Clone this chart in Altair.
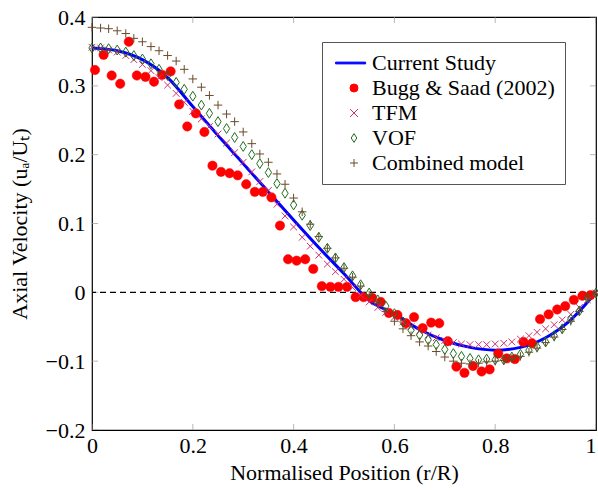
import altair as alt
import pandas as pd

FONT = "Liberation Serif"

series_names = ["Current Study", "Bugg & Saad (2002)", "TFM", "VOF", "Combined model"]
stroke_colors = ["#0000ff", "#ff0000", "#d3306b", "#1e6e1e", "#6b4a2b"]
fill_colors = ["#0000ff", "#ff0000", "transparent", "transparent", "transparent"]
shapes = ["M-4.6,-0.22H2.9V0.22H-4.6Z", "circle", "M-1,-1L1,1M-1,1L1,-1",
          "M0,-1.1L0.7,0L0,1.1L-0.7,0Z", "M-1,0H1M0,-1V1"]

x_ticks = [0, 0.2, 0.4, 0.6, 0.8, 1]
y_ticks = [-0.2, -0.1, 0, 0.1, 0.2, 0.3, 0.4]

# Current Study (solid line)
cs_x = [0, 0.05, 0.1, 0.15, 0.2, 0.25, 0.3, 0.35, 0.4, 0.45, 0.5,
        0.55, 0.6, 0.65, 0.7, 0.75, 0.8, 0.85, 0.9, 0.95, 1.0]
cs_y = [0.355, 0.351, 0.338, 0.312, 0.27, 0.228, 0.187, 0.146, 0.105, 0.065, 0.027,
        -0.012, -0.031, -0.054, -0.07, -0.08, -0.084, -0.08, -0.066, -0.04, 0.0]

# Bugg & Saad (2002) experimental points
bs_x = [0.006, 0.023, 0.039, 0.056, 0.073, 0.089, 0.106, 0.123, 0.139, 0.156,
        0.173, 0.189, 0.206, 0.223, 0.239, 0.256, 0.273, 0.289, 0.306, 0.323,
        0.339, 0.356, 0.373, 0.389, 0.406, 0.423, 0.439, 0.456, 0.473, 0.489,
        0.506, 0.523, 0.539, 0.556, 0.573, 0.589, 0.606, 0.623, 0.639, 0.656,
        0.673, 0.689, 0.706, 0.723, 0.739, 0.756, 0.773, 0.789, 0.806, 0.823,
        0.839, 0.856, 0.873, 0.889, 0.906, 0.923, 0.939, 0.956, 0.973, 0.989]
bs_y = [0.323, 0.345, 0.315, 0.303, 0.364, 0.315, 0.313, 0.306, 0.316, 0.321,
        0.273, 0.241, 0.26, 0.233, 0.184, 0.175, 0.173, 0.17, 0.157, 0.146,
        0.146, 0.138, 0.097, 0.048, 0.046, 0.048, 0.034, 0.009, 0.008, 0.008,
        0.008, -0.007, -0.007, -0.008, -0.014, -0.03, -0.033, -0.045, -0.036, -0.052,
        -0.044, -0.045, -0.071, -0.108, -0.117, -0.107, -0.115, -0.112, -0.089, -0.096,
        -0.097, -0.072, -0.074, -0.039, -0.032, -0.025, -0.02, -0.011, -0.005, -0.004]

# shared abscissae of the three model series
m_x = [0.000, 0.017, 0.033, 0.050, 0.067, 0.083, 0.100, 0.117, 0.133, 0.150,
       0.167, 0.183, 0.200, 0.217, 0.233, 0.250, 0.267, 0.283, 0.300, 0.317,
       0.333, 0.350, 0.367, 0.383, 0.400, 0.417, 0.433, 0.450, 0.467, 0.483,
       0.500, 0.517, 0.533, 0.550, 0.567, 0.583, 0.600, 0.617, 0.633, 0.650,
       0.667, 0.683, 0.700, 0.717, 0.733, 0.750, 0.767, 0.783, 0.800, 0.817,
       0.833, 0.850, 0.867, 0.883, 0.900, 0.917, 0.933, 0.950, 0.967, 0.983, 1.000]
tfm_y = [0.356, 0.355, 0.352, 0.349, 0.344, 0.338, 0.331, 0.322, 0.312, 0.301,
         0.289, 0.276, 0.263, 0.252, 0.241, 0.23, 0.217, 0.203, 0.189, 0.175,
         0.161, 0.148, 0.128, 0.111, 0.095, 0.08, 0.067, 0.054, 0.041, 0.03,
         0.019, 0.007, -0.004, -0.014, -0.022, -0.029, -0.036, -0.043, -0.05, -0.056,
         -0.062, -0.066, -0.07, -0.073, -0.075, -0.076, -0.076, -0.076, -0.075, -0.074,
         -0.072, -0.068, -0.063, -0.058, -0.053, -0.047, -0.04, -0.032, -0.022, -0.011, -0.001]
vof_y = [0.355, 0.355, 0.354, 0.352, 0.349, 0.344, 0.339, 0.332, 0.324, 0.315,
         0.305, 0.295, 0.285, 0.272, 0.26, 0.248, 0.238, 0.225, 0.212, 0.2,
         0.187, 0.174, 0.158, 0.144, 0.127, 0.112, 0.097, 0.08, 0.064, 0.05,
         0.036, 0.024, 0.011, -0.001, -0.011, -0.02, -0.031, -0.043, -0.055, -0.062,
         -0.069, -0.076, -0.083, -0.089, -0.093, -0.096, -0.098, -0.097, -0.098, -0.098,
         -0.094, -0.09, -0.084, -0.079, -0.072, -0.063, -0.053, -0.039, -0.027, -0.008, -0.001]
comb_y = [0.385, 0.384, 0.383, 0.38, 0.376, 0.369, 0.364, 0.357, 0.351, 0.344,
          0.336, 0.324, 0.31, 0.298, 0.286, 0.272, 0.259, 0.248, 0.233, 0.216,
          0.201, 0.189, 0.172, 0.157, 0.137, 0.117, 0.099, 0.081, 0.064, 0.05,
          0.035, 0.022, 0.009, -0.004, -0.016, -0.028, -0.042, -0.053, -0.063, -0.072,
          -0.078, -0.086, -0.094, -0.1, -0.103, -0.104, -0.103, -0.101, -0.1, -0.099,
          -0.096, -0.093, -0.087, -0.081, -0.073, -0.065, -0.054, -0.042, -0.028, -0.01, -0.002]

cs_df = pd.DataFrame({"x": cs_x, "y": cs_y, "series": series_names[0]})
bs_df = pd.DataFrame({"x": bs_x, "y": bs_y, "series": series_names[1]})
tfm_df = pd.DataFrame({"x": m_x, "y": tfm_y, "series": series_names[2]})
vof_df = pd.DataFrame({"x": m_x, "y": vof_y, "series": series_names[3]})
comb_df = pd.DataFrame({"x": m_x, "y": comb_y, "series": series_names[4]})

xscale = alt.Scale(domain=[0, 1], nice=False, zero=False)
yscale = alt.Scale(domain=[-0.2, 0.4], nice=False, zero=False)

FS = 22

x_axis = alt.Axis(values=x_ticks, format="~g", labelFont=FONT, labelFontSize=FS,
                  labelColor="black", labelPadding=5, labelFlush=False, labelOverlap=False,
                  labelAlign=alt.ConditionalAxisLabelAlign(
                      condition={"test": "datum.value >= 1", "value": "right"}, value="center"),
                  domain=False, ticks=False, grid=False,
                  title="Normalised Position (r/R)", titleFont=FONT, titleFontSize=FS,
                  titleFontWeight="normal", titleColor="black", titlePadding=6)
y_axis = alt.Axis(values=y_ticks, format="~g", labelFont=FONT, labelFontSize=FS,
                  labelColor="black", labelPadding=7, labelFlush=False, labelOverlap=False,
                  domain=False, ticks=False, grid=False,
                  title="Axial Velocity (uₐ/Uₜ)", titleFont=FONT, titleFontSize=FS,
                  titleFontWeight="normal", titleColor="black", titlePadding=14)

leg = alt.Legend(orient="none", legendX=230, legendY=25, direction="vertical",
                 strokeColor="#555555", fillColor="white", padding=10, cornerRadius=0,
                 labelFont=FONT, labelFontSize=FS, labelColor="black", labelLimit=400,
                 symbolSize=64, symbolStrokeWidth=1, symbolFillColor="transparent",
                 rowPadding=3, symbolOffset=11, labelOffset=7)

stroke_enc = alt.Stroke("series:N", title=None,
                        scale=alt.Scale(domain=series_names, range=stroke_colors), legend=leg)
fill_enc = alt.Fill("series:N", title=None,
                    scale=alt.Scale(domain=series_names, range=fill_colors), legend=leg)
shape_enc = alt.Shape("series:N", title=None,
                      scale=alt.Scale(domain=series_names, range=shapes), legend=leg)

X = alt.X("x:Q", scale=xscale, axis=x_axis)
Y = alt.Y("y:Q", scale=yscale, axis=y_axis)

zero_line = alt.Chart(pd.DataFrame({"z": [0]})).mark_rule(
    color="black", strokeWidth=1.4, strokeDash=[6, 4]).encode(y=alt.Y("z:Q", scale=yscale, axis=y_axis))

line = alt.Chart(cs_df).mark_line(strokeWidth=3, interpolate="monotone").encode(
    x=X, y=Y, stroke=stroke_enc)

def pts(df, size, sw=1):
    return alt.Chart(df).mark_point(size=size, strokeWidth=sw, opacity=1).encode(
        x=X, y=Y, stroke=stroke_enc, fill=fill_enc, shape=shape_enc)

bs_layer = pts(bs_df, 88, 0.5)
tfm_layer = pts(tfm_df, 45, 1)
vof_layer = pts(vof_df, 81, 1)
comb_layer = pts(comb_df, 72, 1)

# inward ticks on all four sides (clipped so only the inner half shows)
xt_df = pd.DataFrame({"t": x_ticks})
yt_df = pd.DataFrame({"t": y_ticks})
tick_style = dict(color="#999999", thickness=1, size=12, clip=True)
tick_b = alt.Chart(xt_df).mark_tick(orient="vertical", **tick_style).encode(
    x=alt.X("t:Q", scale=xscale), y=alt.datum(-0.2))
tick_t = alt.Chart(xt_df).mark_tick(orient="vertical", **tick_style).encode(
    x=alt.X("t:Q", scale=xscale), y=alt.datum(0.4))
tick_l = alt.Chart(yt_df).mark_tick(orient="horizontal", **tick_style).encode(
    y=alt.Y("t:Q", scale=yscale), x=alt.datum(0))
tick_r = alt.Chart(yt_df).mark_tick(orient="horizontal", **tick_style).encode(
    y=alt.Y("t:Q", scale=yscale), x=alt.datum(1))

chart = alt.layer(
    tick_b, tick_t, tick_l, tick_r, zero_line, line, bs_layer, tfm_layer, vof_layer, comb_layer
).properties(
    width=504, height=413,
    autosize=alt.AutoSizeParams(type="none"),
    padding={"left": 92, "top": 17, "right": 2, "bottom": 64},
    background="white",
).configure_view(stroke="black", strokeWidth=1.2)

chart.save("out.html", embed_options={"renderer": "svg", "actions": False})
